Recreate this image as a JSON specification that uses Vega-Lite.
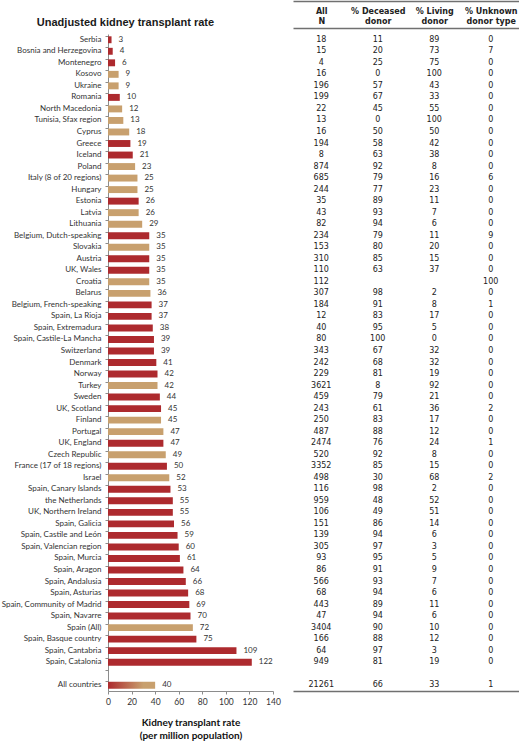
{
  "$schema": "https://vega.github.io/schema/vega-lite/v6.json",
  "padding": {"left": 0, "top": 1, "right": 0, "bottom": 0},
  "bounds": "flush",
  "spacing": 20,
  "background": "white",
  "config": {"view": {"stroke": null}, "font": "Lato"},
  "data": {
    "values": [
      {"country": "Serbia", "rate": 3, "source": "individual", "N": 18, "deceased": 11, "living": 89, "unknown": 0},
      {"country": "Bosnia and Herzegovina", "rate": 4, "source": "individual", "N": 15, "deceased": 20, "living": 73, "unknown": 7},
      {"country": "Montenegro", "rate": 6, "source": "individual", "N": 4, "deceased": 25, "living": 75, "unknown": 0},
      {"country": "Kosovo", "rate": 9, "source": "aggregated", "N": 16, "deceased": 0, "living": 100, "unknown": 0},
      {"country": "Ukraine", "rate": 9, "source": "aggregated", "N": 196, "deceased": 57, "living": 43, "unknown": 0},
      {"country": "Romania", "rate": 10, "source": "individual", "N": 199, "deceased": 67, "living": 33, "unknown": 0},
      {"country": "North Macedonia", "rate": 12, "source": "aggregated", "N": 22, "deceased": 45, "living": 55, "unknown": 0},
      {"country": "Tunisia, Sfax region", "rate": 13, "source": "aggregated", "N": 13, "deceased": 0, "living": 100, "unknown": 0},
      {"country": "Cyprus", "rate": 18, "source": "aggregated", "N": 16, "deceased": 50, "living": 50, "unknown": 0},
      {"country": "Greece", "rate": 19, "source": "individual", "N": 194, "deceased": 58, "living": 42, "unknown": 0},
      {"country": "Iceland", "rate": 21, "source": "individual", "N": 8, "deceased": 63, "living": 38, "unknown": 0},
      {"country": "Poland", "rate": 23, "source": "aggregated", "N": 874, "deceased": 92, "living": 8, "unknown": 0},
      {"country": "Italy (8 of 20 regions)", "rate": 25, "source": "aggregated", "N": 685, "deceased": 79, "living": 16, "unknown": 6},
      {"country": "Hungary", "rate": 25, "source": "aggregated", "N": 244, "deceased": 77, "living": 23, "unknown": 0},
      {"country": "Estonia", "rate": 26, "source": "individual", "N": 35, "deceased": 89, "living": 11, "unknown": 0},
      {"country": "Latvia", "rate": 26, "source": "aggregated", "N": 43, "deceased": 93, "living": 7, "unknown": 0},
      {"country": "Lithuania", "rate": 29, "source": "aggregated", "N": 82, "deceased": 94, "living": 6, "unknown": 0},
      {"country": "Belgium, Dutch-speaking", "rate": 35, "source": "individual", "N": 234, "deceased": 79, "living": 11, "unknown": 9},
      {"country": "Slovakia", "rate": 35, "source": "aggregated", "N": 153, "deceased": 80, "living": 20, "unknown": 0},
      {"country": "Austria", "rate": 35, "source": "individual", "N": 310, "deceased": 85, "living": 15, "unknown": 0},
      {"country": "UK, Wales", "rate": 35, "source": "individual", "N": 110, "deceased": 63, "living": 37, "unknown": 0},
      {"country": "Croatia", "rate": 35, "source": "aggregated", "N": 112, "deceased": null, "living": null, "unknown": 100},
      {"country": "Belarus", "rate": 36, "source": "aggregated", "N": 307, "deceased": 98, "living": 2, "unknown": 0},
      {"country": "Belgium, French-speaking", "rate": 37, "source": "individual", "N": 184, "deceased": 91, "living": 8, "unknown": 1},
      {"country": "Spain, La Rioja", "rate": 37, "source": "individual", "N": 12, "deceased": 83, "living": 17, "unknown": 0},
      {"country": "Spain, Extremadura", "rate": 38, "source": "individual", "N": 40, "deceased": 95, "living": 5, "unknown": 0},
      {"country": "Spain, Castile-La Mancha", "rate": 39, "source": "individual", "N": 80, "deceased": 100, "living": 0, "unknown": 0},
      {"country": "Switzerland", "rate": 39, "source": "individual", "N": 343, "deceased": 67, "living": 32, "unknown": 0},
      {"country": "Denmark", "rate": 41, "source": "individual", "N": 242, "deceased": 68, "living": 32, "unknown": 0},
      {"country": "Norway", "rate": 42, "source": "individual", "N": 229, "deceased": 81, "living": 19, "unknown": 0},
      {"country": "Turkey", "rate": 42, "source": "aggregated", "N": 3621, "deceased": 8, "living": 92, "unknown": 0},
      {"country": "Sweden", "rate": 44, "source": "individual", "N": 459, "deceased": 79, "living": 21, "unknown": 0},
      {"country": "UK, Scotland", "rate": 45, "source": "individual", "N": 243, "deceased": 61, "living": 36, "unknown": 2},
      {"country": "Finland", "rate": 45, "source": "aggregated", "N": 250, "deceased": 83, "living": 17, "unknown": 0},
      {"country": "Portugal", "rate": 47, "source": "aggregated", "N": 487, "deceased": 88, "living": 12, "unknown": 0},
      {"country": "UK, England", "rate": 47, "source": "individual", "N": 2474, "deceased": 76, "living": 24, "unknown": 1},
      {"country": "Czech Republic", "rate": 49, "source": "aggregated", "N": 520, "deceased": 92, "living": 8, "unknown": 0},
      {"country": "France (17 of 18 regions)", "rate": 50, "source": "individual", "N": 3352, "deceased": 85, "living": 15, "unknown": 0},
      {"country": "Israel", "rate": 52, "source": "aggregated", "N": 498, "deceased": 30, "living": 68, "unknown": 2},
      {"country": "Spain, Canary Islands", "rate": 53, "source": "individual", "N": 116, "deceased": 98, "living": 2, "unknown": 0},
      {"country": "the Netherlands", "rate": 55, "source": "individual", "N": 959, "deceased": 48, "living": 52, "unknown": 0},
      {"country": "UK, Northern Ireland", "rate": 55, "source": "individual", "N": 106, "deceased": 49, "living": 51, "unknown": 0},
      {"country": "Spain, Galicia", "rate": 56, "source": "individual", "N": 151, "deceased": 86, "living": 14, "unknown": 0},
      {"country": "Spain, Castile and León", "rate": 59, "source": "individual", "N": 139, "deceased": 94, "living": 6, "unknown": 0},
      {"country": "Spain, Valencian region", "rate": 60, "source": "individual", "N": 305, "deceased": 97, "living": 3, "unknown": 0},
      {"country": "Spain, Murcia", "rate": 61, "source": "individual", "N": 93, "deceased": 95, "living": 5, "unknown": 0},
      {"country": "Spain, Aragon", "rate": 64, "source": "individual", "N": 86, "deceased": 91, "living": 9, "unknown": 0},
      {"country": "Spain, Andalusia", "rate": 66, "source": "individual", "N": 566, "deceased": 93, "living": 7, "unknown": 0},
      {"country": "Spain, Asturias", "rate": 68, "source": "individual", "N": 68, "deceased": 94, "living": 6, "unknown": 0},
      {"country": "Spain, Community of Madrid", "rate": 69, "source": "individual", "N": 443, "deceased": 89, "living": 11, "unknown": 0},
      {"country": "Spain, Navarre", "rate": 70, "source": "individual", "N": 47, "deceased": 94, "living": 6, "unknown": 0},
      {"country": "Spain (All)", "rate": 72, "source": "aggregated", "N": 3404, "deceased": 90, "living": 10, "unknown": 0},
      {"country": "Spain, Basque country", "rate": 75, "source": "individual", "N": 166, "deceased": 88, "living": 12, "unknown": 0},
      {"country": "Spain, Cantabria", "rate": 109, "source": "individual", "N": 64, "deceased": 97, "living": 3, "unknown": 0},
      {"country": "Spain, Catalonia", "rate": 122, "source": "individual", "N": 949, "deceased": 81, "living": 19, "unknown": 0},
      {"country": "All countries", "rate": 40, "source": "all", "N": 21261, "deceased": 66, "living": 33, "unknown": 1}
    ]
  },
  "hconcat": [
    {
      "width": 165,
      "height": 657,
      "title": {
        "text": "Unadjusted kidney transplant rate",
        "anchor": "start",
        "frame": "bounds",
        "dx": 36,
        "offset": 6,
        "font": "Liberation Sans",
        "fontSize": 11,
        "fontWeight": "bold",
        "color": "#1a1a1a"
      },
      "encoding": {
        "y": {
          "field": "country",
          "type": "nominal",
          "title": null,
          "scale": {
            "domain": ["Serbia", "Bosnia and Herzegovina", "Montenegro", "Kosovo", "Ukraine", "Romania", "North Macedonia", "Tunisia, Sfax region", "Cyprus", "Greece", "Iceland", "Poland", "Italy (8 of 20 regions)", "Hungary", "Estonia", "Latvia", "Lithuania", "Belgium, Dutch-speaking", "Slovakia", "Austria", "UK, Wales", "Croatia", "Belarus", "Belgium, French-speaking", "Spain, La Rioja", "Spain, Extremadura", "Spain, Castile-La Mancha", "Switzerland", "Denmark", "Norway", "Turkey", "Sweden", "UK, Scotland", "Finland", "Portugal", "UK, England", "Czech Republic", "France (17 of 18 regions)", "Israel", "Spain, Canary Islands", "the Netherlands", "UK, Northern Ireland", "Spain, Galicia", "Spain, Castile and León", "Spain, Valencian region", "Spain, Murcia", "Spain, Aragon", "Spain, Andalusia", "Spain, Asturias", "Spain, Community of Madrid", "Spain, Navarre", "Spain (All)", "Spain, Basque country", "Spain, Cantabria", "Spain, Catalonia", " ", "All countries"],
            "paddingInner": 0.4,
            "paddingOuter": 0.2
          },
          "axis": {
            "labelFont": "Lato",
            "labelFontSize": 8,
            "labelColor": "#333",
            "labelPadding": 4,
            "labelLimit": 200,
            "domainColor": "#8c8c8c",
            "tickColor": "#8c8c8c",
            "tickSize": 3,
            "bandPosition": 0,
            "grid": false
          }
        },
        "x": {
          "field": "rate",
          "type": "quantitative",
          "scale": {"domain": [0, 140], "nice": false},
          "axis": {
            "values": [0, 20, 40, 60, 80, 100, 120, 140],
            "tickCount": 8,
            "labelOverlap": false,
            "labelFlush": false,
            "grid": false,
            "labelFont": "Lato",
            "labelFontSize": 8.5,
            "labelColor": "#333",
            "domainColor": "#8c8c8c",
            "tickColor": "#8c8c8c",
            "tickSize": 3,
            "labelPadding": 3,
            "title": ["Kidney transplant rate", "(per million population)"],
            "titleFont": "Lato",
            "titleFontSize": 10,
            "titleFontWeight": "bold",
            "titleColor": "#111",
            "titlePadding": 12,
            "titleLineHeight": 13
          }
        }
      },
      "layer": [
        {
          "transform": [{"filter": "datum.source !== 'all'"}],
          "mark": {"type": "bar"},
          "encoding": {
            "color": {
              "field": "source",
              "type": "nominal",
              "scale": {"domain": ["individual", "aggregated"], "range": ["#AD2A2E", "#C8A06E"]},
              "legend": null
            }
          }
        },
        {
          "transform": [{"filter": "datum.source === 'all'"}],
          "mark": {
            "type": "bar",
            "color": {
              "gradient": "linear",
              "x1": 0, "x2": 1, "y1": 0, "y2": 0,
              "stops": [
                {"offset": 0, "color": "#AD2A2E"},
                {"offset": 0.75, "color": "#C8A06E"},
                {"offset": 1, "color": "#C8A06E"}
              ]
            }
          }
        },
        {
          "mark": {"type": "text", "align": "left", "baseline": "middle", "dx": 7, "font": "Lato", "fontSize": 8, "color": "#333"},
          "encoding": {
            "text": {"field": "rate", "type": "quantitative"}
          }
        }
      ]
    },
    {
      "width": 226,
      "height": 657,
      "transform": [
        {"fold": ["N", "deceased", "living", "unknown"], "as": ["col", "val"]},
        {"filter": "isValid(datum.val)"}
      ],
      "encoding": {
        "y": {
          "field": "country",
          "type": "nominal",
          "scale": {
            "domain": ["Serbia", "Bosnia and Herzegovina", "Montenegro", "Kosovo", "Ukraine", "Romania", "North Macedonia", "Tunisia, Sfax region", "Cyprus", "Greece", "Iceland", "Poland", "Italy (8 of 20 regions)", "Hungary", "Estonia", "Latvia", "Lithuania", "Belgium, Dutch-speaking", "Slovakia", "Austria", "UK, Wales", "Croatia", "Belarus", "Belgium, French-speaking", "Spain, La Rioja", "Spain, Extremadura", "Spain, Castile-La Mancha", "Switzerland", "Denmark", "Norway", "Turkey", "Sweden", "UK, Scotland", "Finland", "Portugal", "UK, England", "Czech Republic", "France (17 of 18 regions)", "Israel", "Spain, Canary Islands", "the Netherlands", "UK, Northern Ireland", "Spain, Galicia", "Spain, Castile and León", "Spain, Valencian region", "Spain, Murcia", "Spain, Aragon", "Spain, Andalusia", "Spain, Asturias", "Spain, Community of Madrid", "Spain, Navarre", "Spain (All)", "Spain, Basque country", "Spain, Cantabria", "Spain, Catalonia", " ", "All countries"],
            "paddingInner": 0.4,
            "paddingOuter": 0.2
          },
          "axis": null
        }
      },
      "layer": [
        {
          "mark": {"type": "text", "baseline": "middle", "font": "DejaVu Sans", "fontSize": 8, "color": "#222"},
          "encoding": {
            "x": {
              "field": "col",
              "type": "nominal",
              "sort": ["N", "deceased", "living", "unknown"],
              "scale": {"paddingInner": 0, "paddingOuter": 0.1},
              "axis": {
                "orient": "top",
                "offset": 6,
                "title": null,
                "ticks": false,
                "labelAngle": 0,
                "labelFont": "DejaVu Sans",
                "labelFontWeight": "bold",
                "labelFontSize": 8,
                "labelColor": "#222",
                "labelPadding": 13,
                "labelLineHeight": 10,
                "labelExpr": "datum.value == 'N' ? ['All', 'N'] : datum.value == 'deceased' ? ['% Deceased', 'donor'] : datum.value == 'living' ? ['% Living', 'donor'] : ['% Unknown', 'donor type']",
                "domainColor": "#707070",
                "domainWidth": 1.5
              }
            },
            "text": {"field": "val", "type": "nominal"}
          }
        },
        {
          "mark": {"type": "text", "opacity": 0},
          "encoding": {
            "x": {
              "field": "col",
              "type": "nominal",
              "sort": ["N", "deceased", "living", "unknown"],
              "axis": {"orient": "top", "offset": 33, "title": null, "labels": false, "ticks": false, "domainColor": "#707070", "domainWidth": 1.5}
            },
            "text": {"field": "val", "type": "nominal"}
          }
        },
        {
          "mark": {"type": "text", "opacity": 0},
          "encoding": {
            "x": {
              "field": "col",
              "type": "nominal",
              "sort": ["N", "deceased", "living", "unknown"],
              "axis": {"orient": "bottom", "title": null, "labels": false, "ticks": false, "domainColor": "#707070", "domainWidth": 1.5}
            },
            "text": {"field": "val", "type": "nominal"}
          }
        }
      ],
      "resolve": {"axis": {"x": "independent"}}
    }
  ]
}
